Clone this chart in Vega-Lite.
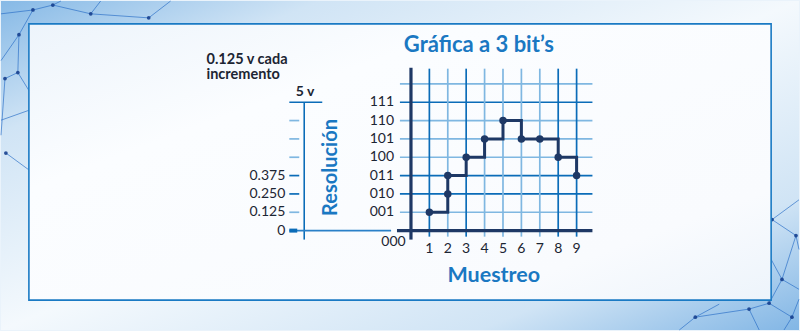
{
  "$schema": "https://vega.github.io/schema/vega-lite/v6.json",
  "width": 800,
  "height": 331,
  "autosize": {"type": "fit", "contains": "padding"},
  "padding": 0,
  "background": "#eaf3fb",
  "config": {"view": {"stroke": null}, "text": {"font": "Lato"}},
  "datasets": {
    "red": [
      {"x": -22.276, "y": 11.82, "x2": -20.54, "y2": 12.03},
      {"x": -20.54, "y": 12.03, "x2": -19.46, "y2": 12.30},
      {"x": -20.54, "y": 12.03, "x2": -21.30, "y2": 10.68},
      {"x": -21.30, "y": 10.68, "x2": -21.36, "y2": 8.62},
      {"x": -21.36, "y": 8.62, "x2": -22.06, "y2": 8.29},
      {"x": -19.46, "y": 12.30, "x2": -17.40, "y2": 11.82},
      {"x": -17.40, "y": 11.82, "x2": -14.25, "y2": 11.60},
      {"x": -19.46, "y": 12.30, "x2": -19.02, "y2": 12.52},
      {"x": -21.30, "y": 10.68, "x2": -22.276, "y2": 9.27},
      {"x": -21.36, "y": 8.62, "x2": -20.76, "y2": 7.64},
      {"x": -22.06, "y": 8.29, "x2": -22.276, "y2": 5.20},
      {"x": -22.276, "y": 6.02, "x2": -20.76, "y2": 6.56},
      {"x": -22.01, "y": 4.23, "x2": -20.76, "y2": 3.31},
      {"x": -17.40, "y": 11.82, "x2": -16.86, "y2": 12.52},
      {"x": -14.25, "y": 11.60, "x2": -13.06, "y2": 12.52},
      {"x": 19.62, "y": 0.60, "x2": 20.92, "y2": -0.27},
      {"x": 20.92, "y": -0.27, "x2": 20.16, "y2": -2.66},
      {"x": 20.16, "y": -2.66, "x2": 19.46, "y2": -3.96},
      {"x": 19.46, "y": -3.96, "x2": 18.37, "y2": -4.28},
      {"x": 18.37, "y": -4.28, "x2": 15.45, "y2": -4.72},
      {"x": 15.45, "y": -4.72, "x2": 14.58, "y2": -5.42},
      {"x": 19.46, "y": -3.96, "x2": 20.70, "y2": -4.72},
      {"x": 20.70, "y": -4.72, "x2": 21.084, "y2": -3.74},
      {"x": 20.16, "y": -2.66, "x2": 21.084, "y2": -3.20},
      {"x": 18.37, "y": -4.28, "x2": 18.92, "y2": -5.42},
      {"x": 19.62, "y": 0.60, "x2": 21.084, "y2": 1.68},
      {"x": 20.92, "y": -0.27, "x2": 21.084, "y2": -1.03},
      {"x": 16.75, "y": -4.01, "x2": 15.45, "y2": -4.72},
      {"x": 20.70, "y": -4.72, "x2": 20.27, "y2": -5.42},
      {"x": 19.57, "y": -1.57, "x2": 20.16, "y2": -2.66}
    ],
    "nodos": [
      {"x": -20.54, "y": 12.03}, {"x": -19.46, "y": 12.30}, {"x": -21.30, "y": 10.68},
      {"x": -21.36, "y": 8.62}, {"x": -22.06, "y": 8.29}, {"x": -17.40, "y": 11.82},
      {"x": -14.25, "y": 11.60}, {"x": -22.01, "y": 4.23},
      {"x": 20.92, "y": -0.27}, {"x": 20.16, "y": -2.66}, {"x": 19.46, "y": -3.96},
      {"x": 18.37, "y": -4.28}, {"x": 15.45, "y": -4.72}, {"x": 20.70, "y": -4.72},
      {"x": 19.62, "y": 0.60}
    ],
    "hgrid": [
      {"level": 1, "tone": "claro"}, {"level": 2, "tone": "oscuro"},
      {"level": 3, "tone": "oscuro"}, {"level": 4, "tone": "claro"},
      {"level": 5, "tone": "claro"}, {"level": 6, "tone": "claro"},
      {"level": 7, "tone": "oscuro"}, {"level": 8, "tone": "claro"}
    ],
    "vgrid": [
      {"muestra": 1, "tone": "oscuro"}, {"muestra": 2, "tone": "claro"},
      {"muestra": 3, "tone": "oscuro"}, {"muestra": 4, "tone": "claro"},
      {"muestra": 5, "tone": "claro"}, {"muestra": 6, "tone": "claro"},
      {"muestra": 7, "tone": "claro"}, {"muestra": 8, "tone": "oscuro"},
      {"muestra": 9, "tone": "oscuro"}
    ],
    "muestras": [
      {"muestra": 1, "nivel": 1}, {"muestra": 2, "nivel": 3},
      {"muestra": 3, "nivel": 4}, {"muestra": 4, "nivel": 5},
      {"muestra": 5, "nivel": 6}, {"muestra": 6, "nivel": 5},
      {"muestra": 7, "nivel": 5}, {"muestra": 8, "nivel": 4},
      {"muestra": 9, "nivel": 3}
    ],
    "puntos": [
      {"muestra": 1, "nivel": 1}, {"muestra": 2, "nivel": 2},
      {"muestra": 2, "nivel": 3}, {"muestra": 3, "nivel": 4},
      {"muestra": 4, "nivel": 5}, {"muestra": 5, "nivel": 6},
      {"muestra": 6, "nivel": 5}, {"muestra": 7, "nivel": 5},
      {"muestra": 8, "nivel": 4}, {"muestra": 9, "nivel": 3}
    ],
    "codigos": [
      {"level": 1, "code": "001"}, {"level": 2, "code": "010"},
      {"level": 3, "code": "011"}, {"level": 4, "code": "100"},
      {"level": 5, "code": "101"}, {"level": 6, "code": "110"},
      {"level": 7, "code": "111"}
    ],
    "ticksIzq": [
      {"level": 1, "tone": "claro"}, {"level": 2, "tone": "oscuro"},
      {"level": 3, "tone": "oscuro"}, {"level": 4, "tone": "claro"},
      {"level": 5, "tone": "claro"}, {"level": 6, "tone": "claro"}
    ],
    "voltajes": [
      {"level": 0, "v": "0"}, {"level": 1, "v": "0.125"},
      {"level": 2, "v": "0.250"}, {"level": 3, "v": "0.375"}
    ],
    "nota": [
      {"linea": 1, "t": "0.125 v cada"},
      {"linea": 2, "t": "incremento"}
    ]
  },
  "layer": [
    {
      "data": {"values": [{}]},
      "mark": {
        "type": "rect",
        "fill": {
          "gradient": "linear", "x1": 0, "y1": 0, "x2": 1, "y2": 1,
          "stops": [
            {"offset": 0, "color": "#86b9e6"},
            {"offset": 0.2, "color": "#d0e4f5"},
            {"offset": 0.5, "color": "#f4f9fd"},
            {"offset": 0.8, "color": "#d0e4f5"},
            {"offset": 1, "color": "#82b6e5"}
          ]
        }
      },
      "encoding": {
        "x": {"datum": -22.276, "type": "quantitative", "scale": {"domain": [-22.276, 21.084], "nice": false, "zero": false}, "axis": null},
        "x2": {"datum": 21.084},
        "y": {"datum": -5.42, "type": "quantitative", "scale": {"domain": [-5.42, 12.52], "nice": false, "zero": false}, "axis": null},
        "y2": {"datum": 12.52}
      }
    },
    {
      "data": {"name": "red"},
      "mark": {"type": "rule", "color": "#2a6fc7", "strokeWidth": 0.9, "opacity": 0.75},
      "encoding": {
        "x": {"field": "x", "type": "quantitative", "scale": {"domain": [-22.276, 21.084], "nice": false, "zero": false}, "axis": null},
        "x2": {"field": "x2"},
        "y": {"field": "y", "type": "quantitative", "scale": {"domain": [-5.42, 12.52], "nice": false, "zero": false}, "axis": null},
        "y2": {"field": "y2"}
      }
    },
    {
      "data": {"name": "nodos"},
      "mark": {"type": "point", "filled": true, "shape": "circle", "size": 14, "color": "#17408f", "opacity": 0.9},
      "encoding": {
        "x": {"field": "x", "type": "quantitative", "scale": {"domain": [-22.276, 21.084], "nice": false, "zero": false}, "axis": null},
        "y": {"field": "y", "type": "quantitative", "scale": {"domain": [-5.42, 12.52], "nice": false, "zero": false}, "axis": null}
      }
    },
    {
      "data": {"values": [{}]},
      "mark": {
        "type": "rect",
        "stroke": "#1a7ac4",
        "strokeWidth": 1.6,
        "fill": {
          "gradient": "linear", "x1": 0, "y1": 0, "x2": 1, "y2": 1,
          "stops": [
            {"offset": 0, "color": "#edf4fb"},
            {"offset": 0.3, "color": "#fbfdff"},
            {"offset": 0.8, "color": "#f9fbfe"},
            {"offset": 1, "color": "#edf4fb"}
          ]
        }
      },
      "encoding": {
        "x": {"datum": -20.76, "type": "quantitative", "scale": {"domain": [-22.276, 21.084], "nice": false, "zero": false}, "axis": null},
        "x2": {"datum": 19.57},
        "y": {"datum": -3.79, "type": "quantitative", "scale": {"domain": [-5.42, 12.52], "nice": false, "zero": false}, "axis": null},
        "y2": {"datum": 11.27}
      }
    },
    {
      "data": {"name": "hgrid"},
      "mark": {"type": "rule", "strokeWidth": 1.7},
      "encoding": {
        "y": {"field": "level", "type": "quantitative", "scale": {"domain": [-5.42, 12.52], "nice": false, "zero": false}, "axis": null},
        "x": {"datum": -0.6, "type": "quantitative", "scale": {"domain": [-22.276, 21.084], "nice": false, "zero": false}, "axis": null},
        "x2": {"datum": 9.86},
        "color": {"field": "tone", "type": "nominal", "scale": {"domain": ["claro", "oscuro"], "range": ["#7fb7e1", "#0b6cb8"]}, "legend": null}
      }
    },
    {
      "data": {"name": "vgrid"},
      "mark": {"type": "rule", "strokeWidth": 1.7},
      "encoding": {
        "x": {"field": "muestra", "type": "quantitative", "scale": {"domain": [-22.276, 21.084], "nice": false, "zero": false}, "axis": null},
        "y": {"datum": -0.33, "type": "quantitative", "scale": {"domain": [-5.42, 12.52], "nice": false, "zero": false}, "axis": null},
        "y2": {"datum": 8.83},
        "color": {"field": "tone", "type": "nominal", "scale": {"domain": ["claro", "oscuro"], "range": ["#7fb7e1", "#0b6cb8"]}, "legend": null}
      }
    },
    {
      "data": {"values": [{}]},
      "mark": {"type": "rule", "color": "#1e3865", "strokeWidth": 3.2},
      "encoding": {
        "x": {"datum": 0, "type": "quantitative", "scale": {"domain": [-22.276, 21.084], "nice": false, "zero": false}, "axis": null},
        "y": {"datum": -0.49, "type": "quantitative", "scale": {"domain": [-5.42, 12.52], "nice": false, "zero": false}, "axis": null},
        "y2": {"datum": 8.88}
      }
    },
    {
      "data": {"values": [{}]},
      "mark": {"type": "rule", "color": "#1e3865", "strokeWidth": 3.2},
      "encoding": {
        "y": {"datum": 0, "type": "quantitative", "scale": {"domain": [-5.42, 12.52], "nice": false, "zero": false}, "axis": null},
        "x": {"datum": -0.76, "type": "quantitative", "scale": {"domain": [-22.276, 21.084], "nice": false, "zero": false}, "axis": null},
        "x2": {"datum": 9.86}
      }
    },
    {
      "data": {"name": "muestras"},
      "mark": {"type": "line", "interpolate": "step-after", "color": "#1e3865", "strokeWidth": 3, "strokeJoin": "miter"},
      "encoding": {
        "x": {"field": "muestra", "type": "quantitative", "scale": {"domain": [-22.276, 21.084], "nice": false, "zero": false}, "axis": null},
        "y": {"field": "nivel", "type": "quantitative", "scale": {"domain": [-5.42, 12.52], "nice": false, "zero": false}, "axis": null}
      }
    },
    {
      "data": {"name": "puntos"},
      "mark": {"type": "point", "filled": true, "shape": "circle", "size": 56, "color": "#1e3865", "opacity": 1},
      "encoding": {
        "x": {"field": "muestra", "type": "quantitative", "scale": {"domain": [-22.276, 21.084], "nice": false, "zero": false}, "axis": null},
        "y": {"field": "nivel", "type": "quantitative", "scale": {"domain": [-5.42, 12.52], "nice": false, "zero": false}, "axis": null}
      }
    },
    {
      "data": {"name": "codigos"},
      "mark": {"type": "text", "align": "right", "baseline": "middle", "fontSize": 14, "color": "#1c2533"},
      "encoding": {
        "y": {"field": "level", "type": "quantitative", "scale": {"domain": [-5.42, 12.52], "nice": false, "zero": false}, "axis": null},
        "x": {"datum": -0.92, "type": "quantitative", "scale": {"domain": [-22.276, 21.084], "nice": false, "zero": false}, "axis": null},
        "text": {"field": "code"}
      }
    },
    {
      "data": {"values": [{"code": "000"}]},
      "mark": {"type": "text", "align": "center", "baseline": "middle", "fontSize": 14, "color": "#1c2533"},
      "encoding": {
        "x": {"datum": -0.95, "type": "quantitative", "scale": {"domain": [-22.276, 21.084], "nice": false, "zero": false}, "axis": null},
        "y": {"datum": -0.6, "type": "quantitative", "scale": {"domain": [-5.42, 12.52], "nice": false, "zero": false}, "axis": null},
        "text": {"field": "code"}
      }
    },
    {
      "data": {"name": "muestras"},
      "mark": {"type": "text", "align": "center", "baseline": "middle", "fontSize": 14, "color": "#1c2533"},
      "encoding": {
        "x": {"field": "muestra", "type": "quantitative", "scale": {"domain": [-22.276, 21.084], "nice": false, "zero": false}, "axis": null},
        "y": {"datum": -1.03, "type": "quantitative", "scale": {"domain": [-5.42, 12.52], "nice": false, "zero": false}, "axis": null},
        "text": {"field": "muestra"}
      }
    },
    {
      "data": {"values": [{}]},
      "mark": {"type": "rule", "color": "#0b6cb8", "strokeWidth": 1.6},
      "encoding": {
        "x": {"datum": -5.8, "type": "quantitative", "scale": {"domain": [-22.276, 21.084], "nice": false, "zero": false}, "axis": null},
        "y": {"datum": -0.49, "type": "quantitative", "scale": {"domain": [-5.42, 12.52], "nice": false, "zero": false}, "axis": null},
        "y2": {"datum": 7}
      }
    },
    {
      "data": {"values": [{}]},
      "mark": {"type": "rule", "color": "#0b6cb8", "strokeWidth": 1.6},
      "encoding": {
        "y": {"datum": 7, "type": "quantitative", "scale": {"domain": [-5.42, 12.52], "nice": false, "zero": false}, "axis": null},
        "x": {"datum": -6.61, "type": "quantitative", "scale": {"domain": [-22.276, 21.084], "nice": false, "zero": false}, "axis": null},
        "x2": {"datum": -4.82}
      }
    },
    {
      "data": {"name": "ticksIzq"},
      "mark": {"type": "rule", "strokeWidth": 1.7},
      "encoding": {
        "y": {"field": "level", "type": "quantitative", "scale": {"domain": [-5.42, 12.52], "nice": false, "zero": false}, "axis": null},
        "x": {"datum": -6.61, "type": "quantitative", "scale": {"domain": [-22.276, 21.084], "nice": false, "zero": false}, "axis": null},
        "x2": {"datum": -6.07},
        "color": {"field": "tone", "type": "nominal", "scale": {"domain": ["claro", "oscuro"], "range": ["#7fb7e1", "#0b6cb8"]}, "legend": null}
      }
    },
    {
      "data": {"values": [{}]},
      "mark": {"type": "rule", "color": "#2a80c8", "strokeWidth": 1.6},
      "encoding": {
        "y": {"datum": 0, "type": "quantitative", "scale": {"domain": [-5.42, 12.52], "nice": false, "zero": false}, "axis": null},
        "x": {"datum": -6.61, "type": "quantitative", "scale": {"domain": [-22.276, 21.084], "nice": false, "zero": false}, "axis": null},
        "x2": {"datum": -1.08}
      }
    },
    {
      "data": {"values": [{}]},
      "mark": {"type": "rule", "color": "#0b6cb8", "strokeWidth": 4},
      "encoding": {
        "y": {"datum": 0, "type": "quantitative", "scale": {"domain": [-5.42, 12.52], "nice": false, "zero": false}, "axis": null},
        "x": {"datum": -6.61, "type": "quantitative", "scale": {"domain": [-22.276, 21.084], "nice": false, "zero": false}, "axis": null},
        "x2": {"datum": -6.18}
      }
    },
    {
      "data": {"name": "voltajes"},
      "mark": {"type": "text", "align": "right", "baseline": "middle", "fontSize": 14, "color": "#1c2533"},
      "encoding": {
        "y": {"field": "level", "type": "quantitative", "scale": {"domain": [-5.42, 12.52], "nice": false, "zero": false}, "axis": null},
        "x": {"datum": -6.83, "type": "quantitative", "scale": {"domain": [-22.276, 21.084], "nice": false, "zero": false}, "axis": null},
        "text": {"field": "v"}
      }
    },
    {
      "data": {"values": [{"t": "5 v"}]},
      "mark": {"type": "text", "align": "center", "baseline": "alphabetic", "fontSize": 14, "fontWeight": "bold", "color": "#1c2533"},
      "encoding": {
        "x": {"datum": -5.75, "type": "quantitative", "scale": {"domain": [-22.276, 21.084], "nice": false, "zero": false}, "axis": null},
        "y": {"datum": 7.32, "type": "quantitative", "scale": {"domain": [-5.42, 12.52], "nice": false, "zero": false}, "axis": null},
        "text": {"field": "t"}
      }
    },
    {
      "data": {"values": [{"t": "Resolución"}]},
      "mark": {"type": "text", "align": "center", "baseline": "middle", "angle": 270, "fontSize": 20, "fontWeight": "bold", "color": "#1a78c2"},
      "encoding": {
        "x": {"datum": -4.36, "type": "quantitative", "scale": {"domain": [-22.276, 21.084], "nice": false, "zero": false}, "axis": null},
        "y": {"datum": 3.44, "type": "quantitative", "scale": {"domain": [-5.42, 12.52], "nice": false, "zero": false}, "axis": null},
        "text": {"field": "t"}
      }
    },
    {
      "data": {"name": "nota"},
      "transform": [{"filter": "datum.linea == 1"}],
      "mark": {"type": "text", "align": "left", "baseline": "alphabetic", "fontSize": 14.5, "fontWeight": "bold", "color": "#1c2533"},
      "encoding": {
        "x": {"datum": -11.11, "type": "quantitative", "scale": {"domain": [-22.276, 21.084], "nice": false, "zero": false}, "axis": null},
        "y": {"datum": 9.08, "type": "quantitative", "scale": {"domain": [-5.42, 12.52], "nice": false, "zero": false}, "axis": null},
        "text": {"field": "t"}
      }
    },
    {
      "data": {"name": "nota"},
      "transform": [{"filter": "datum.linea == 2"}],
      "mark": {"type": "text", "align": "left", "baseline": "alphabetic", "fontSize": 14.5, "fontWeight": "bold", "color": "#1c2533"},
      "encoding": {
        "x": {"datum": -11.11, "type": "quantitative", "scale": {"domain": [-22.276, 21.084], "nice": false, "zero": false}, "axis": null},
        "y": {"datum": 8.24, "type": "quantitative", "scale": {"domain": [-5.42, 12.52], "nice": false, "zero": false}, "axis": null},
        "text": {"field": "t"}
      }
    },
    {
      "data": {"values": [{"t": "Gráfica a 3 bit’s"}]},
      "mark": {"type": "text", "align": "center", "baseline": "alphabetic", "fontSize": 22, "fontWeight": "bold", "color": "#1a78c2"},
      "encoding": {
        "x": {"datum": 3.69, "type": "quantitative", "scale": {"domain": [-22.276, 21.084], "nice": false, "zero": false}, "axis": null},
        "y": {"datum": 9.76, "type": "quantitative", "scale": {"domain": [-5.42, 12.52], "nice": false, "zero": false}, "axis": null},
        "text": {"field": "t"}
      }
    },
    {
      "data": {"values": [{"t": "Muestreo"}]},
      "mark": {"type": "text", "align": "center", "baseline": "alphabetic", "fontSize": 21.5, "fontWeight": "bold", "color": "#1a78c2"},
      "encoding": {
        "x": {"datum": 4.5, "type": "quantitative", "scale": {"domain": [-22.276, 21.084], "nice": false, "zero": false}, "axis": null},
        "y": {"datum": -2.82, "type": "quantitative", "scale": {"domain": [-5.42, 12.52], "nice": false, "zero": false}, "axis": null},
        "text": {"field": "t"}
      }
    }
  ]
}
